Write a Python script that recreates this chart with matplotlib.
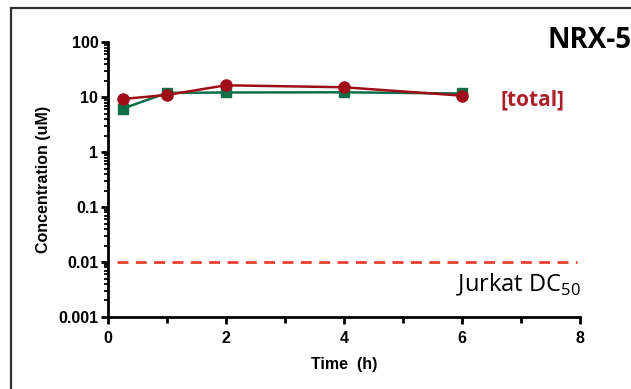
import matplotlib
matplotlib.use("Agg")
import matplotlib.pyplot as plt
from matplotlib.patches import Rectangle
from matplotlib.ticker import LogLocator, FixedLocator, NullFormatter, FixedFormatter

# Time points (h)
time_h = [0.25, 1, 2, 4, 6]
# Concentrations (uM)
conc_green = [6.2, 12.0, 12.2, 12.3, 11.7]
conc_red = [9.3, 11.0, 16.5, 15.2, 10.7]
dc50 = 0.01
dc50_span = [0.15, 7.95]

y_ticks = [0.001, 0.01, 0.1, 1, 10, 100]
y_tick_labels = ["0.001", "0.01", "0.1", "1", "10", "100"]
x_ticks = [0, 2, 4, 6, 8]

GREEN = "#0c6e47"
RED = "#a00d18"
DASH = "#e8402e"
TOTAL = "#ad1e2b"

plt.rcParams["font.family"] = ["Liberation Sans", "DejaVu Sans"]
plt.rcParams["mathtext.fontset"] = "custom"
plt.rcParams["mathtext.rm"] = "Open Sans"

fig = plt.figure(figsize=(6.31, 3.89), dpi=100)
fig.patch.set_facecolor("white")

# frame around the panel
fig.add_artist(Rectangle((11 / 631, -0.1), 1.2, 1 - 8 / 389 + 0.1,
                         transform=fig.transFigure, fill=False,
                         edgecolor="#303030", linewidth=1.6))

ax = fig.add_axes([108 / 631, 1 - 317 / 389, (579.5 - 108) / 631, (317 - 42.3) / 389])
ax.set_yscale("log")
ax.set_xlim(0, 8)
ax.set_ylim(0.001, 100)

ax.plot(dc50_span, [dc50, dc50], color=DASH, lw=2, dashes=(3.95, 2.65))

ax.plot(time_h, conc_green, color=GREEN, lw=1.8, marker="s", ms=7.5, zorder=3)
ax.plot(time_h, conc_red, color=RED, lw=1.8, marker="o", ms=8, zorder=4)

for side in ("top", "right"):
    ax.spines[side].set_visible(False)
for side in ("left", "bottom"):
    ax.spines[side].set_linewidth(2)
    ax.spines[side].set_color("black")

ax.yaxis.set_major_locator(FixedLocator(y_ticks))
ax.yaxis.set_major_formatter(FixedFormatter(y_tick_labels))
ax.yaxis.set_minor_locator(LogLocator(base=10, subs=range(2, 10), numticks=20))
ax.yaxis.set_minor_formatter(NullFormatter())
ax.set_xticks(x_ticks)
ax.set_xticks([1, 3, 5, 7], minor=True)

ax.tick_params(axis="both", which="major", direction="out", length=5, width=2,
               labelsize=11.5, pad=2)
ax.tick_params(axis="y", which="minor", direction="out", length=3, width=1.3)
ax.tick_params(axis="x", which="minor", direction="out", length=4, width=2)
for lbl in ax.get_xticklabels() + ax.get_yticklabels():
    lbl.set_fontweight("bold")
ax.tick_params(axis="x", pad=5)

ax.set_xlabel("Time  (h)", fontsize=11.5, fontweight="bold", labelpad=8)
ax.set_ylabel("Concentration (uM)", fontsize=11.5, fontweight="bold", labelpad=5)

fig.text(547 / 631, 1 - 41 / 389, "NRX-5", fontsize=20, fontweight="bold",
         family=["Open Sans", "DejaVu Sans"], ha="left", va="center")
fig.text(532 / 631, 1 - 100 / 389, "[total]", fontsize=15, fontweight="bold",
         color=TOTAL, family=["Open Sans", "DejaVu Sans"], ha="center", va="center")
fig.text(581 / 631, 1 - 291 / 389, r"Jurkat DC$_{\mathrm{50}}$", fontsize=17,
         family=["Open Sans", "DejaVu Sans"], ha="right", va="baseline")

fig.savefig("out.png", dpi=100)
